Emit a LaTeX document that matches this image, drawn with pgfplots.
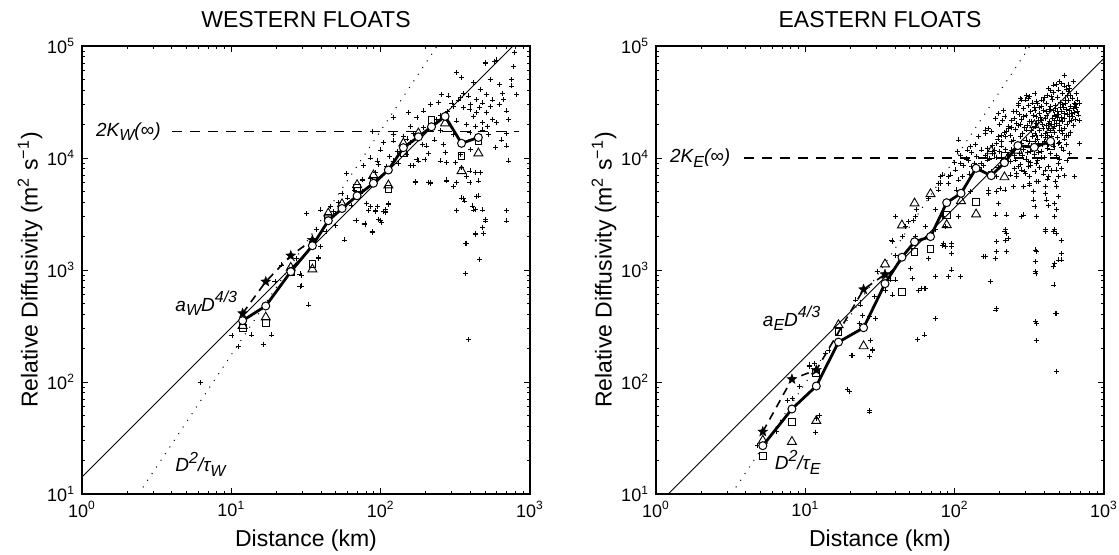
\documentclass[border=0pt]{standalone}
\usepackage{fontspec}
\setmainfont{Liberation Sans}
\usepackage{pgfplots}
\usepackage{pgfplotstable}
\pgfplotsset{compat=1.18}

\newcommand{\lsub}[1]{\raisebox{-0.45ex}{\fontsize{8}{9}\selectfont #1}}
\newcommand{\lsup}[1]{\raisebox{0.85ex}{\fontsize{8}{9}\selectfont #1}}

\pgfdeclareplotmark{fstar}{%
  \pgfpathmoveto{\pgfpointpolar{90}{\pgfplotmarksize}}%
  \pgfpathlineto{\pgfpointpolar{126}{0.42\pgfplotmarksize}}%
  \pgfpathlineto{\pgfpointpolar{162}{\pgfplotmarksize}}%
  \pgfpathlineto{\pgfpointpolar{198}{0.42\pgfplotmarksize}}%
  \pgfpathlineto{\pgfpointpolar{234}{\pgfplotmarksize}}%
  \pgfpathlineto{\pgfpointpolar{270}{0.42\pgfplotmarksize}}%
  \pgfpathlineto{\pgfpointpolar{306}{\pgfplotmarksize}}%
  \pgfpathlineto{\pgfpointpolar{342}{0.42\pgfplotmarksize}}%
  \pgfpathlineto{\pgfpointpolar{18}{\pgfplotmarksize}}%
  \pgfpathlineto{\pgfpointpolar{54}{0.42\pgfplotmarksize}}%
  \pgfpathclose
  \pgfusepathqfillstroke}

\tikzset{
  crossp/.style={only marks, mark=+, mark size=1.25pt, mark options={line width=0.4pt}, black},
  circp/.style={black, line width=1.4pt, mark=*, mark size=2pt, mark options={fill=white, draw=black, line width=0.5pt, solid}},
  starp/.style={black, line width=0.8pt, dash pattern=on 4pt off 3pt, mark=fstar, mark size=2.6pt, mark options={solid, fill=black, line width=0.2pt}},
  trip/.style={only marks, mark=triangle, mark size=2.6pt, mark options={line width=0.45pt}, black},
  sqp/.style={only marks, mark=square, mark size=1.7pt, mark options={line width=0.45pt}, black},
  solp/.style={black, line width=0.45pt},
  dotp/.style={black, line width=0.5pt, dash pattern=on 0.5pt off 3.5pt},
  kp/.style={black, line width=0.85pt, dash pattern=on 5pt off 4pt},
  annot/.style={font=\fontsize{9.5}{11}\selectfont\itshape, inner sep=0pt},
}

\pgfplotsset{
  every axis title/.style={at={(axis description cs:0.5,1.058)},anchor=center,font=\fontsize{11.5}{13}\selectfont},
}

\pgfplotstableread{
x y
782 87000
500 71000
580 73000
770 66000
323 57500
348 52000
540 50000
755 50000
417 47000
627 45500
755 44000
464 41000
511 37000
815 37000
256 37000
283 35800
342 34500
385 35800
438 33400
665 33400
214 30200
244 31200
306 29100
357 28100
396 27200
438 25400
511 25400
700 26300
193 26300
154 25400
121 22900
175 22900
237 22100
323 21400
377 20000
430 19300
477 20700
600 20700
720 22100
158 19300
193 18600
121 16200
142 15700
306 16200
396 16800
525 16200
700 16600
87.6 17100
104 13700
121 14200
158 13700
184 15200
203 12800
262 13200
270 11200
250 9400
277 9100
342 10800
315 9100
348 8200
396 7660
430 7400
468 7400
377 6900
396 6030
451 6240
323 6030
306 5620
277 6240
85 10000
94.5 9400
121 9400
166 8500
179 9400
198 9700
76.5 8500
170 6030
214 6030
720 9400
700 12800
700 3370
700 2740
323 3370
410 3730
430 3480
451 4580
348 4400
366 4130
505 2840
480 2390
430 2080
371 1730
83 3370
92 3370
107 3480
107 3240
78.5 2560
87.6 2150
96.5 2840
101 2640
209 6030
158 8500
175 9700
75 6460
92 7400
39.4 3435
48.3 3310
49.6 2520
59.2 7300
57.6 1854
68.3 2754
78.5 2610
87.6 2200
80.6 3950
94.5 3670
99 2790
104 3310
112.6 3950
110 8360
85 6590
75 6370
67 5180
32 3200
37.2 2280
39.4 1615
38.2 1270
28.8 921
28.8 710
32.8 487
16.4 218
18.6 263
13.7 263
10.1 259
6.17 99
386 242
372 933
377 1730
459 1250
487 2130
505 2740
417 3435
478 3435
359 4365
440 4510
430 2130
277 6370
214 5946
170 6150
49.6 3200
55 4840
69 2790
85 3670
92 3310
96.5 2840
107 3310
112.6 3880
29.6 900
29.6 720
38.2 1290
27.4 1270
21.8 1110
19.6 787
11.1 207
500 70000
600 75000
130 11500
140 12500
150 14800
165 16500
115 10300
96 8800
100 11800
132 9000
250 24000
280 26000
300 31000
330 33000
360 38000
400 30000
420 23500
460 28000
480 31000
540 29000
560 33000
620 30000
650 38000
560 22000
520 19000
480 17800
640 14500
590 12500
400 12000
250 17500
230 14500
210 11000
190 13200
150 10800
60 4400
64 3800
75 5000
52 4000
46 3700
43 2200
}\lcross

\pgfplotstableread{
x y
547 55000
621 48000
590 41900
650 37800
688 30800
638 28700
675 24200
688 21800
493 40500
424 41900
446 35200
345 37800
318 35200
297 33000
274 34100
380 28700
370 25000
414 25900
467 24200
518 25900
590 23400
380 21800
327 21100
289 23400
248 25900
240 21800
267 19700
217 23400
211 26800
197 25000
187 22600
267 29700
354 31900
304 36500
345 26800
424 20400
467 19100
518 17800
560 16000
404 16600
345 16600
304 17800
229 18400
168 18400
160 16600
144 15500
197 15500
206 14000
248 14500
274 15500
318 14000
364 13500
424 13100
493 13500
533 11800
493 8970
480 7820
493 6810
480 5540
493 4510
467 3940
480 3440
467 2990
467 2280
456 2200
518 1850
493 1230
467 1150
456 1070
462 735
480 410
518 1230
424 6810
404 7820
404 4840
414 4220
424 3800
404 2280
354 6150
336 4220
345 3670
349 1510
349 1190
349 966
349 345
191 1460
187 1270
156 1315
173 787
191 455
223 3100
223 2130
229 1920
289 3100
297 7290
318 6810
318 5740
260 6810
248 5540
217 5180
191 5000
168 4840
197 3940
187 3100
638 6810
688 13500
267 8330
311 9270
354 8970
380 10000
223 9590
350 933
354 334
354 234
480 124
474 410
189 440
220 2280
220 1850
160 1315
74 371
62.4 263
56.5 240
110 870
91.2 870
74 870
62.4 687
57.5 662
95.7 1410
84.1 1730
95.7 1730
19.7 83
27 55.5
20.4 174
27 168
28.1 196
11.7 35.6
12.4 50
10.6 142
8.2 71
6.37 36
4.8 27
80.2 6810
93.8 7050
78.4 5950
55.7 3440
53.3 2790
49.3 2700
54.8 1990
63.6 2440
74 2280
86.9 1615
95.7 1615
67.1 1270
60.3 687
95.7 1000
38.1 1790
44.5 1990
40.3 1360
37.1 815
34.5 662
28.9 578
24.1 396
26.8 383
29.5 371
22.9 334
27.4 237
28.1 193
26.8 168
20.7 174
26.8 54
38.1 598
40.3 815
37.1 933
30.3 966
23.5 487
21.8 540
14.4 193
13.7 180
11.5 147
10.6 137
9.1 91
7.6 69
11.8 47
19.1 85
50.6 1035
51.9 843
63.6 687
456 44900
311 34100
281 33000
267 30800
260 25900
160 17800
177 17200
127 12600
121 11800
106 14500
152 11800
137 13100
165 12200
191 13500
206 16000
223 17200
240 14000
124 9590
130 8330
152 7820
191 6810
235 7050
260 7290
281 7820
311 8330
289 5540
318 5950
364 6150
404 5540
424 8330
101 7820
91.2 6810
82.4 7050
112 6810
103 5180
127 5000
168 5180
201 5350
336 5000
281 2990
354 2990
404 2200
480 2130
217 2200
191 1790
223 1460
354 1460
518 1410
82.4 1670
86.9 2440
106 2990
82.4 2990
608 21800
638 30800
580 44900
80 5950
106 6370
160 16600
109 8970
38 1830
47 2440
54.8 2990
40.3 2990
67 4365
78.4 5180
74 3440
91.2 5950
150 9000
160 10500
170 9800
180 11000
190 10200
200 11500
210 9500
220 12000
230 10800
240 11800
250 10500
260 12500
270 11000
280 13500
290 12000
300 14500
310 12800
320 11500
330 15500
340 13000
350 16000
360 14800
370 17500
380 15800
390 18500
400 14000
410 19500
420 16000
430 21000
440 17500
450 22500
460 18500
470 23500
480 20500
490 26000
500 21500
510 28000
520 23000
530 30000
540 25000
550 33000
560 27000
570 36000
200 20000
210 21500
230 19000
250 22500
270 24500
290 27500
310 29500
330 31000
350 23500
370 28000
390 32500
410 30500
430 27000
450 33500
470 29500
490 35000
510 31500
530 38000
180 13000
195 14800
215 16800
235 15800
255 18000
275 20000
295 18800
315 21000
335 24000
355 20500
375 23000
395 26500
415 24000
435 29000
455 26500
475 27500
495 24500
515 26000
535 28500
555 30500
575 32500
595 29000
615 34000
300 9800
320 9200
340 10800
360 9500
380 11500
400 10200
420 12200
440 11000
460 12800
480 10500
500 13800
520 12500
540 14800
560 13200
580 15800
600 17000
620 19500
640 22000
660 26000
250 8000
275 8800
295 7600
320 8600
345 7600
370 8200
395 7200
420 6500
445 7800
470 6200
500 9800
520 8000
545 7000
565 9500
590 11000
110 10500
120 9800
130 11200
140 10400
135 9000
115 8500
125 7200
145 8200
100 9200
105 11500
285 16500
305 19500
325 17500
345 19000
365 21500
385 19800
405 22500
425 18200
445 20000
465 21500
485 23000
505 19500
525 21000
545 22500
565 24500
585 26500
605 25000
625 27500
645 30000
665 33000
600 36500
580 39000
560 41000
540 44000
520 46000
500 48000
480 45000
460 38500
440 40000
420 36500
400 34500
380 33000
360 30500
340 28500
320 26000
300 24000
280 22000
260 20500
240 18800
220 15500
205 12800
185 11800
165 9600
155 8600
175 7600
195 8200
215 8800
235 9300
255 9600
285 10500
305 11200
325 12800
345 14200
365 11200
385 13200
405 15200
425 14200
445 15500
465 16800
485 15200
505 17500
525 16500
545 18500
565 19800
585 21000
615 23500
635 25500
655 28500
}\rcross

\begin{document}
\begin{tikzpicture}
\useasboundingbox (0,0) rectangle (559.5pt,277.5pt);
% ---------------- WESTERN ----------------
\begin{axis}[
    at={(41pt,30.5pt)}, anchor=south west,
    xmode=log, ymode=log, xmin=1, xmax=1000, ymin=10, ymax=100000,
    scale only axis, width=224pt, height=224pt,
    axis line style={line width=0.9pt},
    every tick/.style={black, line width=0.45pt},
    major tick length=3pt, minor tick length=1.7pt,
    tick align=inside,
    xtick={1,10,100,1000}, ytick={10,100,1000,10000,100000},
    xticklabels={10\textsuperscript{0},10\textsuperscript{1},10\textsuperscript{2},10\textsuperscript{3}},
    yticklabels={10\textsuperscript{1},10\textsuperscript{2},10\textsuperscript{3},10\textsuperscript{4},10\textsuperscript{5}},
    tick label style={font=\fontsize{9}{10}\selectfont},
    xlabel={Distance (km)},
    ylabel={Relative Diffusivity (m\textsuperscript{2} s\textsuperscript{−1})},
    label style={font=\fontsize{11.5}{13}\selectfont},
    xlabel style={at={(axis description cs:0.5,-0.103)},anchor=center},
    ylabel style={at={(axis description cs:-0.116,0.5)},anchor=center},
    title={WESTERN FLOATS}]
\addplot[crossp] table {\lcross};
\addplot[solp] coordinates {(1,14.2) (769,100000)};
\addplot[dotp] coordinates {(2.39,10) (239,100000)};
\addplot[kp] coordinates {(4.0,17200) (850,17200)};
\addplot[trip] coordinates {(11.9,318) (17.0,378) (25.0,1050) (34.9,1014) (44.6,3206) (55.1,3882) (69.5,5743) (89.4,7016) (112.6,5703) (141.9,13520) (178.9,16630) (270,20420) (348,7660) (451,11010)};
\addplot[sqp] coordinates {(11.9,303) (17.0,334) (25.0,960) (34.9,1125) (44.6,2911) (69.5,5360) (89.4,6240) (112.6,5260) (141.9,11010) (219,21800) (348,10420) (451,14190)};
\addplot[starp] coordinates {(11.9,410) (17.0,787) (25.0,1343) (34.9,1854)};
\addplot[circp] coordinates {(11.9,353) (17.0,477) (25.0,966) (34.9,1648) (44.6,2754) (55.1,3540) (69.5,4598) (89.4,5946) (112.6,7810) (141.9,12360) (178.9,15450) (219,19000) (270,23500) (348,13520) (451,15250)};
\node[annot, anchor=east] at (axis cs:3.38,17200) {2K\lsub{W}(∞)};
\node[annot, anchor=base west] at (axis cs:4.2,430) {a\lsub{W}D\lsup{4/3}};
\node[annot, anchor=base west] at (axis cs:4.2,15.8) {D\lsup{2}/τ\lsub{W}};
\end{axis}
% ---------------- EASTERN ----------------
\begin{axis}[
    at={(328pt,30.5pt)}, anchor=south west,
    xmode=log, ymode=log, xmin=1, xmax=1000, ymin=10, ymax=100000,
    scale only axis, width=224pt, height=224pt,
    axis line style={line width=0.9pt},
    every tick/.style={black, line width=0.45pt},
    major tick length=3pt, minor tick length=1.7pt,
    tick align=inside,
    xtick={1,10,100,1000}, ytick={10,100,1000,10000,100000},
    xticklabels={10\textsuperscript{0},10\textsuperscript{1},10\textsuperscript{2},10\textsuperscript{3}},
    yticklabels={10\textsuperscript{1},10\textsuperscript{2},10\textsuperscript{3},10\textsuperscript{4},10\textsuperscript{5}},
    tick label style={font=\fontsize{9}{10}\selectfont},
    xlabel={Distance (km)},
    ylabel={Relative Diffusivity (m\textsuperscript{2} s\textsuperscript{−1})},
    label style={font=\fontsize{11.5}{13}\selectfont},
    xlabel style={at={(axis description cs:0.5,-0.103)},anchor=center},
    ylabel style={at={(axis description cs:-0.116,0.5)},anchor=center},
    title={EASTERN FLOATS}]
\addplot[crossp] table {\rcross};
\addplot[solp] coordinates {(1.208,10) (1000,77800)};
\addplot[dotp] coordinates {(3.2,10) (320,100000)};
\addplot[kp] coordinates {(3.9,10000) (830,10000)};
\addplot[trip] coordinates {(5.19,30) (8.13,29.3) (11.84,45) (16.67,323) (24.55,209) (34.15,1125) (44.34,2506) (53.86,3936) (68.9,4770) (88.4,2523) (110.2,4130) (139.1,3140) (175.7,11500) (215.4,6750) (265,11650) (341.6,19700) (438.5,17800)};
\addplot[sqp] coordinates {(5.19,22) (8.13,43.7) (11.84,120) (16.67,279) (44.34,637) (53.86,1459) (68.9,1541) (88.4,3098) (139.1,4018) (175.7,10700) (215.4,10400) (438.5,12800)};
\addplot[starp] coordinates {(5.19,36) (8.13,106) (11.84,128) (24.55,671) (34.15,914)};
\addplot[circp] coordinates {(5.19,27) (8.13,57.4) (11.84,92) (16.67,227) (24.55,305) (34.15,755) (44.34,1300) (53.86,1785) (68.9,1986) (88.4,3990) (110.2,4840) (139.1,8090) (175.7,6950) (215.4,9080) (265,12900) (341.6,12450) (438.5,14100)};
\node[annot, anchor=east] at (axis cs:3.16,10000) {2K\lsub{E}(∞)};
\node[annot, anchor=base west] at (axis cs:5.17,316) {a\lsub{E}D\lsup{4/3}};
\node[annot, anchor=base west] at (axis cs:6.21,16.4) {D\lsup{2}/τ\lsub{E}};
\end{axis}
\end{tikzpicture}
\end{document}
